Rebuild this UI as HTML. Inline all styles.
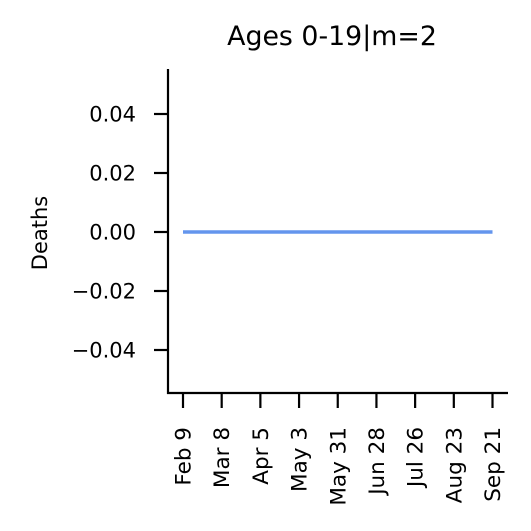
<!DOCTYPE html>
<html><head><meta charset="utf-8"><style>
body{margin:0;background:#fff}
svg{display:block;font-family:"DejaVu Sans","Liberation Sans",sans-serif}
</style></head><body>
<svg id="chart" width="531" height="531" viewBox="0 0 531 531">
<text x="332" y="45" font-size="26.8" text-anchor="middle">Ages 0-19|m=2</text>
<text transform="translate(47,233) rotate(-90)" font-size="21" text-anchor="middle">Deaths</text>
<g id="plot"></g>
</svg>
<script>
const days = [0, 28, 56, 84, 112, 140, 168, 196, 224];
const deaths = [0, 0, 0, 0, 0, 0, 0, 0, 0];
const xTickDays = [0, 28, 56, 84, 112, 140, 168, 196, 224];
const xTickLabels = ["Feb 9","Mar 8","Apr 5","May 3","May 31","Jun 28","Jul 26","Aug 23","Sep 21"];
const yTicks = [0.04, 0.02, 0.00, -0.02, -0.04];
const yTickLabels = ["0.04","0.02","0.00","\u22120.02","\u22120.04"];

const NS = "http://www.w3.org/2000/svg";
const g = document.getElementById("plot");
function x(d){ return 183 + d * (492.5 - 183) / 224; }
function y(v){ return 232 - v * (59 / 0.02); }
function mk(tag, attrs){ const e = document.createElementNS(NS, tag); for (const k in attrs) e.setAttribute(k, attrs[k]); g.appendChild(e); return e; }

const yAxis = mk("line", {x1:168, y1:69, x2:168, y2:394, stroke:"#000", "stroke-width":2.2});


const xAxis = mk("line", {x1:167, y1:393, x2:508, y2:393, stroke:"#000", "stroke-width":2.2});



yTicks.forEach((v, i) => {
  const t = mk("line", {x1:154, y1:y(v), x2:168, y2:y(v), stroke:"#000", "stroke-width":2.2});
  
  
  const l = mk("text", {x:136, y:y(v) + 7.5, "font-size":21, "text-anchor":"end"});
  l.textContent = yTickLabels[i];
  
  
});

xTickDays.forEach((d, i) => {
  const t = mk("line", {x1:x(d), y1:393, x2:x(d), y2:408, stroke:"#000", "stroke-width":2.2});
  
  
  const l = mk("text", {transform:"translate(" + (x(d) + 7.5) + ",427) rotate(-90)", "font-size":21.5, "text-anchor":"end"});
  l.textContent = xTickLabels[i];
  
  
});

const pts = days.map((d, i) => x(d) + "," + y(deaths[i])).join(" ");
const line = mk("polyline", {points:pts, fill:"none", stroke:"#6495ED", "stroke-width":3.5});


</script>
</body></html>
